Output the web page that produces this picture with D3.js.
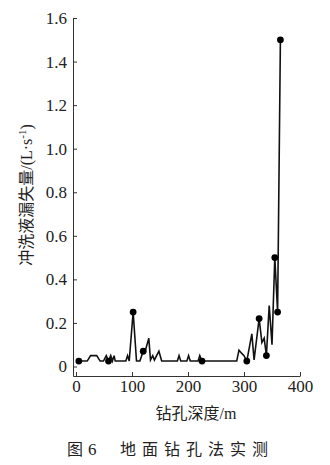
<!DOCTYPE html>
<html>
<head>
<meta charset="utf-8">
<script src="https://cdn.jsdelivr.net/npm/d3@7"></script>
<style>
    body { margin: 0; background: #fff; }
    svg { display: block; }
    text { fill: #222; }
    .serif { font-family: "Liberation Serif", "Times New Roman", "Noto Sans CJK SC"; }
</style>
</head>
<body>
<div id="chart"></div>
<script>
"use strict";

// drilling depth (m) and flushing fluid loss (L/s)
const depth = [5, 20, 26, 37, 43, 49, 54, 58, 62, 65, 68, 70, 89, 92, 95, 102, 108, 114,
    120, 124, 130, 133, 137, 140, 148, 153, 181, 184, 187, 198, 201, 204, 218, 221, 225,
    287, 291, 296, 300, 305, 314, 318, 327, 332, 336, 340, 345, 350, 355, 360, 365];
const loss = [0.025, 0.025, 0.05, 0.05, 0.025, 0.025, 0.05, 0.025, 0.05, 0.025, 0.05, 0.025,
    0.025, 0.05, 0.025, 0.25, 0.025, 0.025, 0.07, 0.075, 0.13, 0.03, 0.05, 0.03, 0.07, 0.025,
    0.025, 0.05, 0.025, 0.025, 0.05, 0.025, 0.025, 0.05, 0.025, 0.025, 0.075, 0.06, 0.05,
    0.025, 0.15, 0.03, 0.22, 0.11, 0.13, 0.05, 0.28, 0.1, 0.5, 0.25, 1.5];

// measured points marked with dots
const markDepth = [5, 58, 102, 120, 225, 305, 327, 340, 355, 360, 365];
const markLoss = [0.025, 0.025, 0.25, 0.07, 0.025, 0.025, 0.22, 0.05, 0.5, 0.25, 1.5];

const xTicks = [0, 100, 200, 300, 400];
const yTicks = [0, 0.2, 0.4, 0.6, 0.8, 1.0, 1.2, 1.4, 1.6];

const width = 330;
const height = 465;

function renderChart() {
    const svg = d3
        .select("#chart")
        .append("svg")
        .attr("width", width)
        .attr("height", height);

    // X axis (starts a little left of 0)
    const xScale = d3.scaleLinear().domain([-5.4, 400]).range([73, 300]);
    const yScale = d3.scaleLinear().domain([-0.0436, 1.6]).range([376, 18]);

    const xAxis = d3
        .axisBottom(xScale)
        .tickValues(xTicks)
        .tickSizeInner(-4)
        .tickSizeOuter(0)
        .tickPadding(4)
        .tickFormat(d3.format("d"));

    const gx = svg.append("g")
        .attr("transform", `translate(0, ${yScale.range()[0]})`)
        .call(xAxis);

    // Y axis
    const yAxis = d3
        .axisLeft(yScale)
        .tickValues(yTicks)
        .tickSizeInner(-4)
        .tickSizeOuter(0)
        .tickPadding(6)
        .tickFormat(d => (d === 0 ? "0" : d3.format(".1f")(d)));

    const gy = svg.append("g")
        .attr("transform", `translate(${xScale.range()[0]}, 0)`)
        .call(yAxis);

    [gx, gy].forEach(g => {
        g.attr("font-family", null).attr("font-size", null);
        g.selectAll("path, line").attr("stroke", "#333").attr("stroke-width", 1);
        g.selectAll("text")
            .attr("class", "serif")
            .style("font-size", "17px")
            .attr("fill", "#222");
    });

    // the loss curve
    const line = d3
        .line()
        .x((_, i) => xScale(depth[i]))
        .y(d => yScale(d));

    svg.append("path")
        .datum(loss)
        .attr("d", line)
        .attr("fill", "none")
        .attr("stroke", "#111")
        .attr("stroke-width", 1.6)
        .attr("stroke-linejoin", "miter");

    svg.selectAll("circle.mark")
        .data(markLoss)
        .enter()
        .append("circle")
        .attr("class", "mark")
        .attr("cx", (_, i) => xScale(markDepth[i]))
        .attr("cy", d => yScale(d))
        .attr("r", 3.4)
        .attr("fill", "#000");

    // axis titles
    svg.append("text")
        .attr("class", "serif")
        .attr("x", 196)
        .attr("y", 419)
        .attr("text-anchor", "middle")
        .style("font-size", "16px")
        .attr("fill", "#333")
        .text("钻孔深度/m");

    const yTitle = svg.append("text")
        .attr("class", "serif")
        .attr("transform", "translate(32, 195) rotate(-90)")
        .attr("text-anchor", "middle")
        .style("font-size", "16px")
        .attr("fill", "#333");
    yTitle.append("tspan").text("冲洗液漏失量/(L·s");
    yTitle.append("tspan").attr("dy", -6).style("font-size", "11px").text("-1");
    yTitle.append("tspan").attr("dy", 6).text(")");

    // caption
    svg.append("text")
        .attr("class", "serif")
        .attr("x", 67)
        .attr("y", 455)
        .style("font-size", "16px")
        .attr("fill", "#333")
        .text("图");

    svg.append("text")
        .attr("class", "serif")
        .attr("x", 88)
        .attr("y", 455)
        .style("font-size", "17px")
        .attr("fill", "#333")
        .text("6");

    svg.append("text")
        .attr("class", "serif")
        .attr("x", 120)
        .attr("y", 455)
        .style("font-size", "16px")
        .attr("letter-spacing", 6)
        .attr("fill", "#333")
        .text("地面钻孔法实测");
}

document.addEventListener("DOMContentLoaded", renderChart);
</script>
</body>
</html>
